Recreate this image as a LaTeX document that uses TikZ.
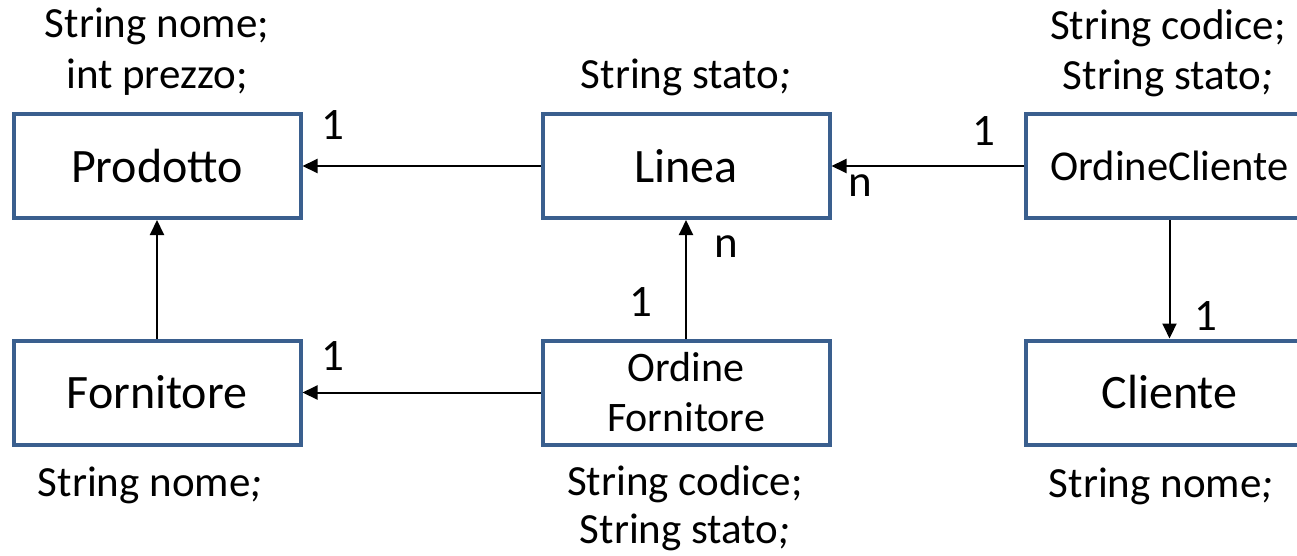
\documentclass[tikz,border=0pt]{standalone}
\usepackage{fontspec}
\setmainfont{Carlito}
\usetikzlibrary{arrows.meta}
\definecolor{boxblue}{HTML}{3A5F8E}
\begin{document}
\begin{tikzpicture}[x=1pt,y=-1pt,
  cls/.style={draw=boxblue, line width=4pt, fill=white, minimum width=287pt,
    minimum height=104pt, inner sep=0pt, align=center},
  big/.style={font=\fontsize{48}{52}\selectfont},
  mid/.style={font=\fontsize{42.5}{50}\selectfont},
  small/.style={font=\fontsize{42}{50}\selectfont},
  attr/.style={font=\fontsize{43}{50}\selectfont, anchor=base, inner sep=0pt},
  mult/.style={font=\fontsize{45}{50}\selectfont, anchor=base, inner sep=0pt},
  conn/.style={line width=2pt, -{Triangle[length=15pt,width=14pt]}}]
\useasboundingbox (0,0) rectangle (1297,555);
\clip (0,0) rectangle (1297,555);
% classes
\node[cls,big] (prod) at (157,166) {Prodotto};
\node[cls,big] (linea) at (686,166) {Linea};
\node[cls,mid] (ocli) at (1169.5,166) {OrdineCliente};
\node[cls,big] (forn) at (157,392.5) {Fornitore};
\node[cls,small] (oforn) at (686,392.5) {Ordine\\Fornitore};
\node[cls,big] (cli) at (1169.5,392.5) {Cliente};
% attributes
\node[attr] (aP1) at (157,37) {String nome;};
\node[attr] (aP2) at (157,88) {int prezzo;};
\node[attr] (aL1) at (686,88) {String stato\textit{;}};
\node[attr] (aOC1) at (1168,39) {String codice;};
\node[attr] (aOC2) at (1168,89) {String stato\textit{;}};
\node[attr] (aF1) at (150,496) {String nome\textit{;}};
\node[attr] (aOF1) at (685,495) {String codice;};
\node[attr] (aOF2) at (685,543) {String stato\textit{;}};
\node[attr] (aC1) at (1161,497) {String nome\textit{;}};
% connectors
\draw[conn] (linea.west) -- (prod.east);
\draw[conn] (ocli.west) -- (linea.east);
\draw[conn] (forn.north) -- (prod.south);
\draw[conn] (oforn.north) -- (linea.south);
\draw[conn] (oforn.west) -- (forn.east);
\draw[conn] (ocli.south) -- (cli.north);
% multiplicities
\node[mult] (m1) at (333,139) {1};
\node[mult] (m2) at (984,145) {1};
\node[mult] (m3) at (860,196) {n};
\node[mult] (m4) at (726,257) {n};
\node[mult] (m5) at (641,316) {1};
\node[mult] (m6) at (333,370) {1};
\node[mult] (m7) at (1206,330) {1};
\end{tikzpicture}
\end{document}
